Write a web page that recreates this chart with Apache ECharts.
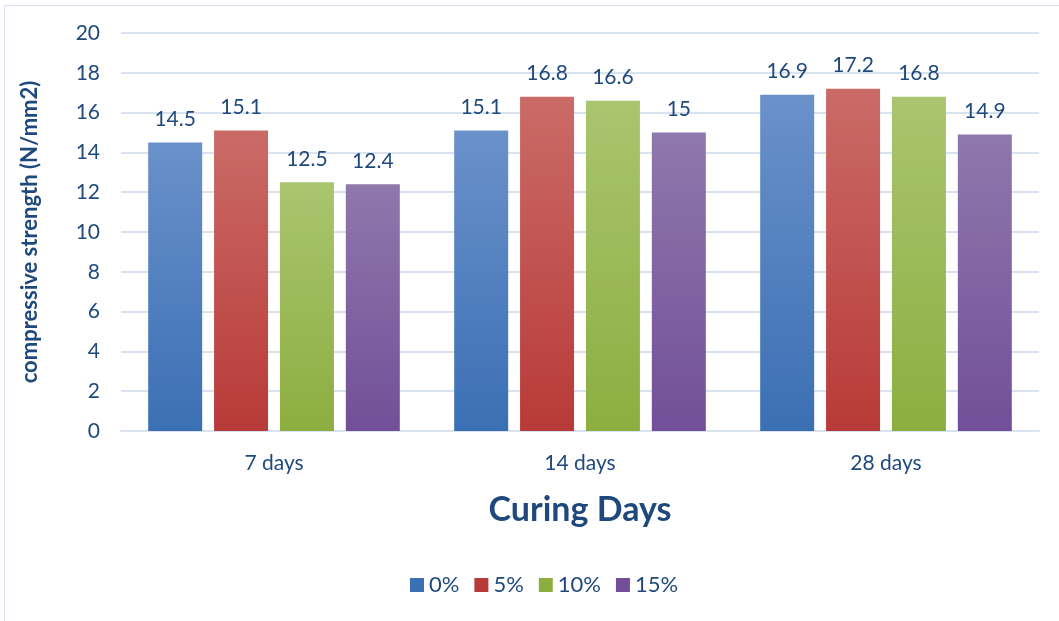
<!DOCTYPE html>
<html>
<head>
<meta charset="utf-8">
<script src="https://cdn.jsdelivr.net/npm/echarts@6/dist/echarts.min.js"></script>
<style>
  html, body { margin: 0; padding: 0; background: #fff; }
  #chart { width: 1059px; height: 621px; }
</style>
</head>
<body>
<div id="chart"></div>
<script>
const categories = ['7 days', '14 days', '28 days'];
const seriesNames = ['0%', '5%', '10%', '15%'];
const values0 = [14.5, 15.1, 16.9];
const values5 = [15.1, 16.8, 17.2];
const values10 = [12.5, 16.6, 16.8];
const values15 = [12.4, 15, 14.9];

const allValues = [values0, values5, values10, values15];
const colors = [
  ['#6a91ca', '#3b6fb4'],
  ['#ca6b67', '#b83a38'],
  ['#a9c56f', '#8cae40'],
  ['#8f78ac', '#724f98']
];

const textColor = '#1f497d';
const font = 'Lato, "Open Sans", sans-serif';

const chart = echarts.init(document.getElementById('chart'));

const series = seriesNames.map(function (name, i) {
  return {
    name: name,
    type: 'bar',
    data: allValues[i],
    barWidth: 54,
    barGap: '22%',
    itemStyle: {
      color: new echarts.graphic.LinearGradient(0, 0, 0, 1, [
        { offset: 0, color: colors[i][0] },
        { offset: 1, color: colors[i][1] }
      ])
    },
    label: {
      show: true,
      position: 'top',
      distance: 13,
      color: textColor,
      fontSize: 21,
      fontFamily: font
    }
  };
});

chart.setOption({
  animation: false,
  graphic: [{
    type: 'rect',
    shape: { x: 4.5, y: 5.5, width: 1060, height: 620 },
    style: { fill: 'none', stroke: '#d6dfec', lineWidth: 1 },
    silent: true
  }],
  legend: {
    data: seriesNames.map(function (n, i) {
      return { name: n, itemStyle: { color: colors[i][1] } };
    }),
    bottom: 20,
    left: 405,
    icon: 'rect',
    itemWidth: 14,
    itemHeight: 14,
    itemGap: 15,
    textStyle: { color: textColor, fontSize: 22, fontFamily: font }
  },
  grid: {
    left: 121,
    right: 20,
    top: 33,
    bottom: 190
  },
  xAxis: {
    type: 'category',
    data: categories,
    name: 'Curing Days',
    nameLocation: 'middle',
    nameGap: 62,
    nameTextStyle: { color: textColor, fontSize: 34, fontWeight: 'bold', fontFamily: font },
    axisLine: { lineStyle: { color: '#d9e3f0', width: 2 } },
    axisTick: { show: false },
    axisLabel: { color: textColor, fontSize: 21, margin: 22, fontFamily: font }
  },
  yAxis: {
    type: 'value',
    min: 0,
    max: 20,
    interval: 2,
    name: 'compressive strength (N/mm2)',
    nameLocation: 'middle',
    nameGap: 80,
    nameTextStyle: { color: textColor, fontSize: 22, fontWeight: 'bold', fontFamily: font },
    axisLine: { show: false },
    axisTick: { show: false },
    axisLabel: { color: textColor, fontSize: 21, margin: 21, fontFamily: font },
    splitLine: { lineStyle: { color: '#d9e3f0', width: 2 } }
  },
  series: series
});
</script>
</body>
</html>
